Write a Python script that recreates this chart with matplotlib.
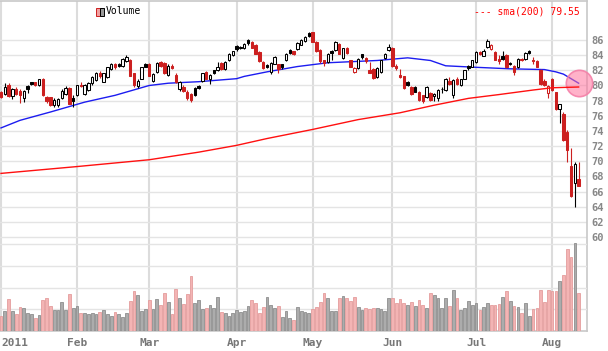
import numpy as np
import matplotlib
matplotlib.use("Agg")
import matplotlib.pyplot as plt
from matplotlib.patches import Rectangle

# daily candles, Jan 3 2011 .. Aug 10 2011
opens = [79.1, 78.9, 80.1, 78.6, 79.6, 79.3, 78.4, 79.9, 80.4, 80.4,
         80.0, 80.8, 78.5, 78.5, 77.4, 77.4, 78.3, 78.9, 79.7, 78.3,
         78.7, 80.0, 78.9, 79.4, 80.3, 80.7, 81.6, 80.5, 81.1, 82.2,
         82.9, 82.9, 82.6, 83.2, 83.3, 81.6, 79.9, 80.9, 82.9, 82.9,
         80.6, 81.8, 83.1, 83.0, 81.4, 82.6, 81.4, 79.5, 79.8, 79.2,
         78.9, 79.7, 79.9, 80.6, 81.8, 80.9, 82.0, 82.0, 83.0, 82.2,
         83.3, 84.0, 85.2, 85.1, 84.9, 86.0, 85.8, 85.4, 84.4, 83.1,
         82.7, 81.8, 82.9, 82.8, 82.8, 83.3, 84.7, 84.5, 84.8, 85.4,
         85.9, 86.9, 87.0, 85.8, 84.7, 83.3, 83.1, 84.6, 84.7, 85.5,
         83.6, 84.9, 83.3, 81.8, 82.3, 84.1, 83.6, 82.1, 82.2, 81.1,
         81.8, 83.6, 84.7, 85.0, 82.6, 81.4, 81.2, 80.5, 79.8, 79.8,
         79.2, 78.7, 78.5, 79.0, 78.6, 78.3, 79.6, 79.4, 80.6, 78.8,
         80.9, 80.0, 80.9, 82.6, 82.5, 83.1, 84.4, 83.95, 85.1, 84.8,
         84.4, 83.5, 83.9, 84.0, 83.0, 82.6, 82.4, 83.5, 83.5, 84.6,
         83.4, 83.2, 82.1, 80.6, 79.0, 80.9, 79.1, 76.95, 76.3, 73.8,
         69.4, 67.1, 67.7]
highs = [79.3, 80.3, 80.3, 79.7, 79.8, 79.5, 79.4, 80.1, 80.5, 80.5,
         80.9, 81.0, 78.6, 78.5, 78.3, 78.3, 79.6, 79.9, 79.8, 78.7,
         80.1, 80.5, 80.2, 80.4, 81.2, 81.8, 81.9, 81.7, 82.5, 83.0,
         83.0, 83.0, 83.6, 84.0, 83.5, 81.7, 80.9, 82.5, 83.0, 83.0,
         81.6, 83.1, 83.2, 83.1, 82.8, 82.8, 81.6, 80.6, 80.0, 79.4,
         79.0, 79.8, 80.0, 81.7, 81.9, 81.5, 82.1, 83.1, 83.1, 83.2,
         84.3, 84.6, 85.3, 85.2, 85.6, 86.1, 85.9, 85.5, 84.5, 83.2,
         82.9, 83.1, 83.9, 82.9, 82.9, 84.3, 84.8, 84.6, 85.7, 86.1,
         86.5, 87.0, 87.1, 85.9, 84.8, 83.4, 84.3, 84.7, 85.9, 85.6,
         85.0, 85.1, 83.4, 82.4, 83.6, 84.2, 83.7, 83.1, 82.3, 82.4,
         83.4, 84.3, 85.5, 85.1, 82.8, 82.2, 81.3, 80.6, 79.9, 79.9,
         79.3, 78.8, 79.9, 79.1, 79.0, 79.5, 79.8, 81.0, 81.1, 80.8,
         81.1, 80.9, 82.1, 82.7, 83.4, 84.5, 84.6, 84.8, 86.2, 85.5,
         84.5, 84.0, 84.6, 84.1, 83.1, 82.7, 83.6, 83.6, 84.4, 84.7,
         83.8, 83.3, 82.2, 80.8, 80.0, 81.0, 79.2, 77.6, 76.5, 74.1,
         71.8, 69.9, 69.9]
lows = [78.3, 78.7, 78.5, 78.2, 78.8, 77.7, 77.8, 79.0, 80.0, 79.9,
        79.9, 78.6, 77.7, 77.3, 77.2, 77.1, 78.2, 78.8, 77.5, 77.2,
        78.6, 79.8, 78.8, 79.3, 80.1, 80.6, 81.0, 80.4, 81.0, 82.1,
        82.2, 82.4, 82.5, 83.1, 81.2, 79.8, 79.7, 80.8, 82.4, 81.2,
        80.4, 81.7, 82.5, 81.5, 81.3, 82.2, 80.3, 79.3, 79.2, 78.1,
        77.8, 78.6, 79.5, 80.5, 80.8, 80.2, 81.5, 81.9, 82.1, 82.0,
        83.2, 83.9, 84.6, 84.8, 84.8, 85.4, 84.9, 84.1, 83.1, 82.2,
        82.3, 81.5, 82.8, 81.7, 82.2, 83.2, 84.1, 84.0, 84.7, 85.3,
        85.8, 86.4, 85.7, 84.4, 83.0, 82.6, 83.0, 83.4, 84.6, 84.1,
        83.5, 84.2, 82.4, 81.6, 82.2, 83.5, 83.0, 81.6, 80.9, 81.0,
        81.7, 83.5, 84.6, 82.5, 82.1, 81.0, 79.6, 79.9, 78.8, 79.1,
        78.0, 77.7, 78.4, 78.0, 78.0, 77.9, 79.0, 79.3, 80.1, 78.4,
        80.1, 79.9, 80.8, 82.1, 82.4, 83.0, 84.0, 83.9, 85.0, 84.7,
        83.3, 82.9, 83.4, 82.3, 82.7, 81.4, 82.3, 83.2, 83.4, 84.2,
        82.9, 82.4, 80.1, 79.9, 78.4, 79.3, 76.8, 75.0, 72.7, 69.9,
        65.3, 63.9, 66.7]
closes = [78.5, 79.8, 78.6, 79.6, 78.9, 78.7, 79.3, 79.6, 80.2, 80.1,
          80.8, 78.7, 77.9, 77.4, 78.1, 78.2, 79.3, 79.7, 77.6, 78.0,
          80.0, 79.9, 80.0, 80.3, 81.1, 81.6, 81.3, 81.6, 82.4, 82.9,
          82.4, 82.6, 83.5, 83.8, 81.3, 80.0, 80.6, 82.4, 82.5, 81.3,
          81.5, 83.0, 82.6, 81.7, 82.6, 82.3, 80.4, 80.5, 79.3, 78.3,
          78.1, 78.7, 79.7, 81.6, 80.9, 81.4, 81.7, 82.5, 82.2, 83.1,
          84.2, 84.5, 84.8, 84.95, 85.5, 85.6, 85.0, 84.2, 83.2, 82.3,
          82.5, 83.0, 83.8, 82.2, 82.4, 84.2, 84.3, 84.2, 85.6, 86.0,
          86.4, 86.55, 85.8, 84.5, 83.2, 83.0, 84.2, 84.3, 85.8, 84.2,
          84.9, 84.3, 82.5, 82.3, 83.5, 83.7, 83.2, 81.7, 81.0, 82.3,
          83.3, 84.2, 85.1, 82.6, 82.3, 81.1, 79.7, 80.1, 78.9, 79.2,
          78.1, 77.9, 79.8, 78.1, 78.9, 79.4, 79.5, 80.9, 80.2, 80.7,
          80.2, 80.8, 82.0, 82.3, 83.3, 84.4, 84.1, 84.6, 85.9, 85.4,
          83.4, 83.2, 83.5, 82.4, 82.8, 81.8, 83.5, 83.3, 84.3, 84.35,
          83.2, 82.5, 80.2, 80.0, 79.9, 79.4, 76.9, 77.5, 72.8, 71.5,
          65.4, 69.7, 66.8]
# volume, arbitrary units (grid every 10)
volume = [6.8, 9.1, 14.6, 9.1, 7.7, 10.9, 10.4, 8.1, 7.7, 5.8,
          7.2, 14.1, 15.0, 11.4, 9.5, 9.5, 13.2, 9.5, 16.9, 10.4,
          11.4, 8.1, 8.1, 7.7, 8.1, 7.7, 8.6, 9.5, 7.7, 6.8,
          8.6, 7.7, 6.3, 8.1, 13.7, 18.3, 16.4, 9.1, 10.0, 14.1,
          10.0, 14.6, 11.8, 17.4, 13.2, 7.7, 19.2, 15.0, 12.3, 16.9,
          25.2, 12.7, 14.1, 10.0, 10.4, 11.8, 10.4, 15.5, 8.6, 8.1,
          6.8, 8.1, 9.5, 8.6, 9.1, 11.4, 14.1, 12.7, 8.1, 10.9,
          15.5, 11.8, 10.4, 11.4, 6.3, 9.1, 5.8, 4.9, 10.9, 9.1,
          8.6, 8.1, 10.0, 10.9, 13.2, 17.4, 15.0, 9.1, 9.1, 15.0,
          16.0, 15.0, 13.7, 15.5, 10.9, 9.5, 10.4, 10.0, 10.4, 10.4,
          10.0, 9.1, 15.0, 15.0, 12.7, 14.6, 12.7, 11.8, 13.2, 11.4,
          14.1, 11.8, 10.4, 17.4, 16.4, 15.0, 10.4, 15.0, 11.4, 18.7,
          15.0, 9.5, 10.4, 13.7, 11.8, 12.7, 9.5, 10.9, 12.7, 11.8,
          11.8, 12.3, 15.5, 18.3, 13.7, 11.4, 10.9, 8.1, 12.7, 6.8,
          10.0, 10.4, 18.7, 13.2, 18.7, 18.3, 18.3, 22.9, 25.7, 37.6,
          33.9, 40.4, 17.4]
prev_close = 79.3  # last close of 2010

month_pos = [0, 20, 39, 62, 82, 103, 125, 145]
month_labels = ['2011', 'Feb', 'Mar', 'Apr', 'May', 'Jun', 'Jul', 'Aug']

# moving averages read at some bars
sma50_idx = [0, 5, 13, 22, 30, 39, 44, 52, 62, 64, 70, 78, 86, 99, 107,
             113, 117, 125, 134, 143, 146, 148, 152]
sma50_val = [74.4, 75.4, 76.5, 77.8, 78.7, 80.0, 80.3, 80.5, 80.9, 81.2,
             81.8, 82.5, 83.0, 83.3, 83.65, 83.3, 82.6, 82.4, 82.2, 82.1,
             81.8, 81.5, 80.3]
sma200_idx = [0, 20, 39, 52, 62, 70, 82, 94, 105, 114, 123, 131, 140, 145, 152]
sma200_val = [68.4, 69.3, 70.2, 71.2, 72.1, 73.0, 74.2, 75.5, 76.4, 77.4,
              78.3, 78.8, 79.4, 79.7, 79.8]

RED = '#cc2020'
GRID = '#e4e4e4'
W, H = 608, 351

o = np.array(opens); h = np.array(highs); l = np.array(lows); c = np.array(closes)
idx = np.arange(len(c))
prev = np.r_[prev_close, c[:-1]]
down = c < prev
col = np.where(down, RED, 'black')
hollow = c >= o

fig = plt.figure(figsize=(W / 100, H / 100), dpi=100)
ax = fig.add_axes([0, 20 / H, 587 / W, 330 / H])
axv = ax.twinx()

# price panel
ax.set_xlim(-0.26, 154.2)
ax.set_ylim(47.6, 91.15)
for m in month_pos:
    ax.axvline(m, color='#dcdcdc', lw=1.5, zorder=0)
ax.set_yticks(range(60, 88, 2))
ax.yaxis.tick_right()
ax.grid(axis='y', color=GRID, lw=1.0, zorder=0)
ax.set_axisbelow(True)

ax.vlines(idx, l, h, colors=col, lw=0.8, zorder=3)
body = np.maximum(np.abs(c - o), 0.05)
ax.bar(idx, body, bottom=np.minimum(o, c), width=0.62,
       color=np.where(hollow, 'white', col), edgecolor=col, linewidth=0.75, zorder=4)

ax.plot(sma50_idx, sma50_val, color='#1c1cf0', lw=1.0, zorder=2)
ax.plot(sma50_idx[-1], sma50_val[-1], 'o', ms=19, mfc=(1.0, 0.45, 0.62, 0.55),
        mec=(0.96, 0.5, 0.66, 0.9), mew=1.2, zorder=5, clip_on=False)
ax.plot(sma200_idx, sma200_val, color='#ff1010', lw=1.0, zorder=6)

ax.set_xticks(month_pos, month_labels)
ax.tick_params(axis='x', length=0, pad=5, labelsize=8, labelcolor='#777777')
ax.tick_params(axis='y', length=0, pad=3, labelsize=7.5, labelcolor='#888888')
for t in ax.get_xticklabels() + ax.get_yticklabels():
    t.set_family('DejaVu Sans Mono')
    t.set_fontweight('bold')
ax.get_xticklabels()[0].set_ha('left')
for s in ['top', 'right', 'bottom']:
    ax.spines[s].set_color('#c8c8c8')
    ax.spines[s].set_linewidth(1.2)
ax.spines['left'].set_visible(False)

# volume panel
axv.set_ylim(0, 152)
axv.set_yticks([10, 20, 30, 40])
axv.grid(axis='y', color=GRID, lw=1.0)
axv.tick_params(axis='y', length=0, labelright=False)
axv.bar(idx, volume, width=0.7, color=np.where(down, '#f3b4b4', '#acacac'),
        edgecolor=np.where(down, '#e49d9d', '#8e8e8e'), linewidth=0.6, zorder=2)
for s in axv.spines.values():
    s.set_visible(False)

# header
yt = 1 - 11.5 / H
fig.add_artist(Rectangle((96 / W, 1 - 16 / H), 3.5 / W, 8.5 / H, transform=fig.transFigure,
                         facecolor='#f0a0a0', edgecolor=RED, lw=0.7))
fig.add_artist(Rectangle((100 / W, 1 - 16 / H), 3.5 / W, 8.5 / H, transform=fig.transFigure,
                         facecolor='#999999', edgecolor='black', lw=0.7))
fig.text(106 / W, yt, 'Volume', fontsize=7, family='DejaVu Sans Mono', va='center', ha='left')
fig.text(580 / W, yt, '--- sma(200) 79.55', fontsize=7, family='DejaVu Sans Mono',
         color='red', va='center', ha='right')

fig.savefig('out.png', dpi=100, facecolor='white')
